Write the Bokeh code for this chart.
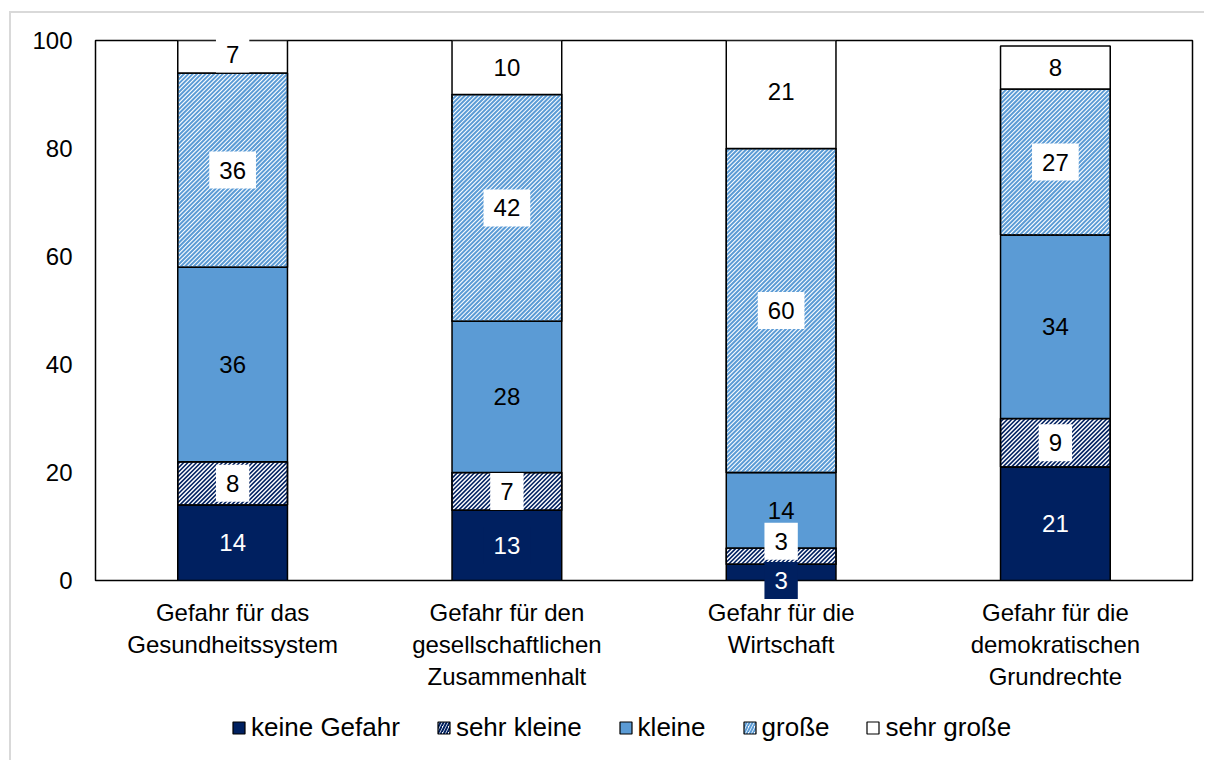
from bokeh.plotting import figure
from bokeh.layouts import column
from bokeh.models import ColumnDataSource, Legend, LegendItem, FactorRange, FixedTicker
from bokeh.embed import file_html
from bokeh.resources import INLINE
from bokeh.core.properties import value

# ---- data ----
categories = [
    "Gefahr für das\nGesundheitssystem",
    "Gefahr für den\ngesellschaftlichen\nZusammenhalt",
    "Gefahr für die\nWirtschaft",
    "Gefahr für die\ndemokratischen\nGrundrechte",
]
series = ["keine Gefahr", "sehr kleine", "kleine", "große", "sehr große"]
keine_gefahr = [14, 13, 3, 21]
sehr_kleine = [8, 7, 3, 9]
kleine = [36, 28, 14, 34]
grosse = [36, 42, 60, 27]
sehr_grosse = [7, 10, 21, 8]
y_ticks = [0, 20, 40, 60, 80, 100]

values = [keine_gefahr, sehr_kleine, kleine, grosse, sehr_grosse]

# ---- styles ----
NAVY = "#002060"
BLUE = "#5B9BD5"
FONT = "Liberation Sans"
FRAME_W, FRAME_H = 1097, 540
BAR_W = 0.4
styles = [
    dict(fill=NAVY, hatch=None, hw=0, txt="white", bg=NAVY),
    dict(fill="white", hatch=NAVY, hw=1.6, txt="black", bg="white"),
    dict(fill=BLUE, hatch=None, hw=0, txt="black", bg=None),
    dict(fill="white", hatch=BLUE, hw=2.0, txt="black", bg="white"),
    dict(fill="white", hatch=None, hw=0, txt="black", bg="white"),
]
# manual label nudges (pixels, positive = down) for the tiny Wirtschaft segments
label_nudge = {(2, 0): 8, (2, 1): -15}

p = figure(
    x_range=FactorRange(*categories, range_padding=0),
    y_range=(0, 100),
    frame_width=FRAME_W, frame_height=FRAME_H,
    min_border_left=84, min_border_right=12, min_border_top=27, min_border_bottom=128,
    output_backend="svg", toolbar_location=None,
    background_fill_color="white", border_fill_color="white",
)
p.outline_line_color = "black"
p.outline_line_width = 1.5
p.grid.visible = False

p.yaxis.ticker = FixedTicker(ticks=y_ticks)
for ax in (p.xaxis, p.yaxis):
    ax.axis_line_color = None
    ax.major_tick_line_color = None
    ax.minor_tick_line_color = None
    ax.major_tick_out = 0
    ax.major_tick_in = 0
    ax.minor_tick_out = 0
    ax.major_label_text_font = FONT
    ax.major_label_text_font_size = "24px"
    ax.major_label_text_color = "black"
p.yaxis.major_label_standoff = 23
p.xaxis.major_label_standoff = 18

px_per_x = FRAME_W / len(categories)
px_per_y = FRAME_H / 100.0


def stripes(ci, y0, y1, period=4.3):
    """diagonal '/' hatch lines clipped to one bar segment (synthetic x coords)"""
    left = ci + 0.5 - BAR_W / 2
    W = BAR_W * px_per_x
    H = (y1 - y0) * px_per_y
    xs0, ys0, xs1, ys1 = [], [], [], []
    c = -W
    while c < H:
        ua, ub = max(0.0, -c), min(W, H - c)
        if ub > ua:
            xs0.append(left + ua / px_per_x)
            ys0.append(y0 + (ua + c) / px_per_y)
            xs1.append(left + ub / px_per_x)
            ys1.append(y0 + (ub + c) / px_per_y)
        c += period
    return xs0, ys0, xs1, ys1


bottoms = [0] * len(categories)
label_sources = []
for si, (name, vals, st) in enumerate(zip(series, values, styles)):
    tops = [b + v for b, v in zip(bottoms, vals)]
    src = ColumnDataSource(dict(x=categories, bottom=bottoms, top=tops))
    p.vbar(x="x", bottom="bottom", top="top", width=BAR_W, source=src,
           fill_color=st["fill"], line_color="black", line_width=1.5)
    if st["hatch"]:
        X0, Y0, X1, Y1 = [], [], [], []
        for ci in range(len(categories)):
            a, b, c, d = stripes(ci, bottoms[ci], tops[ci])
            X0 += a; Y0 += b; X1 += c; Y1 += d
        p.segment(x0=X0, y0=Y0, x1=X1, y1=Y1, line_color=st["hatch"], line_width=st["hw"], line_cap="butt")
        p.vbar(x="x", bottom="bottom", top="top", width=BAR_W, source=src,
               fill_alpha=0, line_color="black", line_width=1.5)
    mids = [(b + t) / 2 for b, t in zip(bottoms, tops)]
    offs = [label_nudge.get((ci, si), 0) for ci in range(len(categories))]
    label_sources.append(ColumnDataSource(dict(x=categories, y=mids, t=[str(v) for v in vals], off=offs)))
    bottoms = tops

for st, lsrc in zip(styles, label_sources):
    tkw = dict(text_align="center", text_baseline="middle", text_color=st["txt"],
               text_font=value(FONT), text_font_size="24px", y_offset="off", level="overlay")
    if st["bg"]:
        tkw.update(background_fill_color=st["bg"], padding=10)
    p.text(x="x", y="y", text="t", source=lsrc, **tkw)

# ---- legend strip (separate figure, so the legend is not clipped) ----
LEG_W = 84 + FRAME_W + 12
lf = figure(width=LEG_W, height=52, x_range=(0, 1), y_range=(0, 1),
            x_axis_location=None, y_axis_location=None,
            output_backend="svg", toolbar_location=None, min_border=0,
            background_fill_color="white", border_fill_color="white")
lf.outline_line_color = None
lf.grid.visible = False

legend_items = []
for name, st in zip(series, styles):
    kw = dict(fill_color=st["fill"], line_color="black", line_width=1.2)
    if st["hatch"]:
        kw.update(hatch_pattern="/", hatch_color=st["hatch"], hatch_scale=6, hatch_weight=2)
    # legend swatch only: one stub bar placed outside the strip's visible range
    r = lf.vbar(x=[-5], top=[-5], bottom=[-6], width=0.1, **kw)
    legend_items.append(LegendItem(label=name, renderers=[r]))

legend = Legend(
    items=legend_items,
    orientation="horizontal", location=(136, 17),
    label_text_font=FONT, label_text_font_size="26px", label_text_color="black",
    glyph_width=15, glyph_height=15, label_standoff=5, spacing=36,
    padding=0, margin=0, border_line_color=None, background_fill_alpha=0,
)
lf.add_layout(legend, "center")

layout = column(p, lf, spacing=0)
layout.styles = {"margin-left": "9px", "margin-top": "11px",
                 "border-left": "2px solid #d9d9d9", "border-top": "2px solid #d9d9d9",
                 "background-color": "white"}

open("out.html", "w").write(file_html(layout, INLINE))
